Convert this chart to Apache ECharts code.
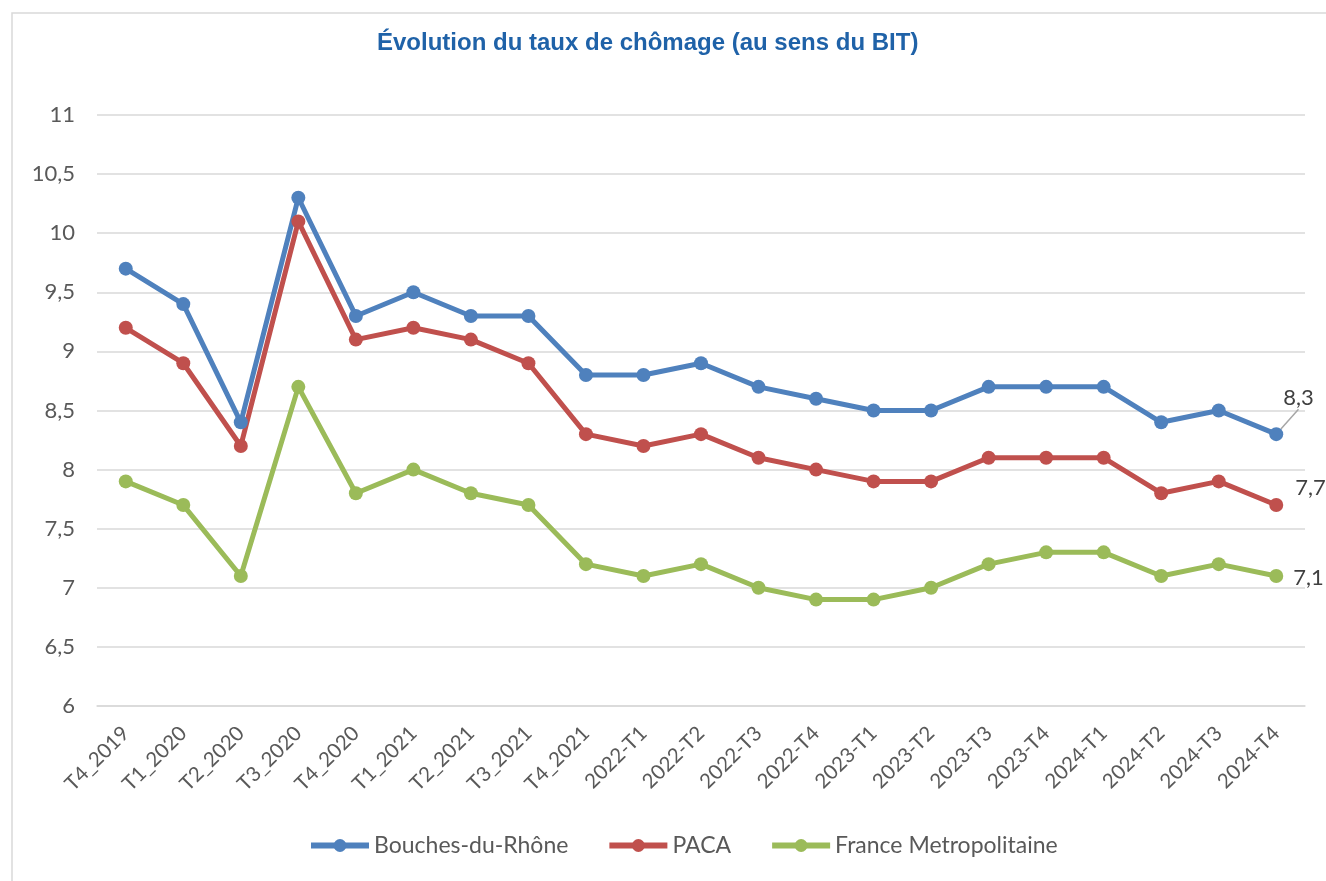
<!DOCTYPE html>
<html><head><meta charset="utf-8">
<script src="https://cdn.jsdelivr.net/npm/echarts@6/dist/echarts.min.js"></script>
<style>html,body{margin:0;padding:0;background:#fff}#c{width:1326px;height:881px}</style>
</head><body><div id="c"></div>
<script>
const categories = ['T4_2019','T1_2020','T2_2020','T3_2020','T4_2020','T1_2021','T2_2021','T3_2021','T4_2021','2022-T1','2022-T2','2022-T3','2022-T4','2023-T1','2023-T2','2023-T3','2023-T4','2024-T1','2024-T2','2024-T3','2024-T4'];
const bouchesDuRhone = [9.7,9.4,8.4,10.3,9.3,9.5,9.3,9.3,8.8,8.8,8.9,8.7,8.6,8.5,8.5,8.7,8.7,8.7,8.4,8.5,8.3];
const paca = [9.2,8.9,8.2,10.1,9.1,9.2,9.1,8.9,8.3,8.2,8.3,8.1,8.0,7.9,7.9,8.1,8.1,8.1,7.8,7.9,7.7];
const franceMetro = [7.9,7.7,7.1,8.7,7.8,8.0,7.8,7.7,7.2,7.1,7.2,7.0,6.9,6.9,7.0,7.2,7.3,7.3,7.1,7.2,7.1];
const seriesNames = ['Bouches-du-Rhône','PACA','France Metropolitaine'];
const colors = ['#4F81BD','#C0504D','#9BBB59'];
const fmt = v => String(v).replace('.', ',');
const FONT = 'Lato, "Open Sans", sans-serif';

function mk(name, vals, color, dx, dy, line) {
  const last = vals.length - 1;
  return {
    name, type: 'line', data: vals.map((v, i) => i === last ? {
      value: v,
      label: { show: true, position: 'right', distance: 8, formatter: p => fmt(p.value), fontSize: 22, color: '#404040', fontFamily: FONT }
    } : v),
    labelLayout: p => p.dataIndex === last ? { dx, dy } : {},
    labelLine: { show: line, lineStyle: { color: '#A6A6A6', width: 1.5 }, length2: 0 },
    color, symbol: 'circle', symbolSize: 14,
    lineStyle: { width: 5, color }, itemStyle: { color },
    emphasis: { disabled: true }, animation: false
  };
}

const chart = echarts.init(document.getElementById('c'), null, { renderer: 'canvas' });
chart.setOption({
  animation: false,
  title: { text: 'Évolution du taux de chômage (au sens du BIT)', left: 372, top: 26,
    textStyle: { fontFamily: '"Liberation Sans", Arial, sans-serif', fontSize: 24, fontWeight: 'bold', color: '#1F62A8' } },
  graphic: [{ type: 'rect', shape: { x: 12, y: 13, width: 1330, height: 900 }, style: { fill: 'none', stroke: '#D9D9D9', lineWidth: 1.5 }, silent: true }],
  legend: { bottom: 19, left: 303, itemWidth: 58, itemHeight: 16, itemGap: 38,
    lineStyle: { width: 6 },
    textStyle: { fontSize: 23, color: '#595959', fontFamily: FONT } },
  grid: { left: 97, right: 21, top: 115, bottom: 175 },
  xAxis: { type: 'category', data: categories, boundaryGap: true,
    axisLine: { show: true, lineStyle: { color: '#D9D9D9', width: 1.5 } }, axisTick: { show: false },
    axisLabel: { rotate: 45, fontSize: 20.5, color: '#595959', fontFamily: FONT, margin: 24, interval: 0 } },
  yAxis: { type: 'value', min: 6, max: 11, interval: 0.5,
    axisLine: { show: false }, axisTick: { show: false },
    splitLine: { lineStyle: { color: '#D9D9D9', width: 1.5 } },
    axisLabel: { fontSize: 22, color: '#595959', fontFamily: FONT, margin: 22, formatter: v => fmt(v) } },
  series: [
    mk(seriesNames[0], bouchesDuRhone, colors[0], -8, -36, true),
    mk(seriesNames[1], paca, colors[1], 4, -17, false),
    mk(seriesNames[2], franceMetro, colors[2], 2, 2, false)
  ]
});
</script></body></html>
